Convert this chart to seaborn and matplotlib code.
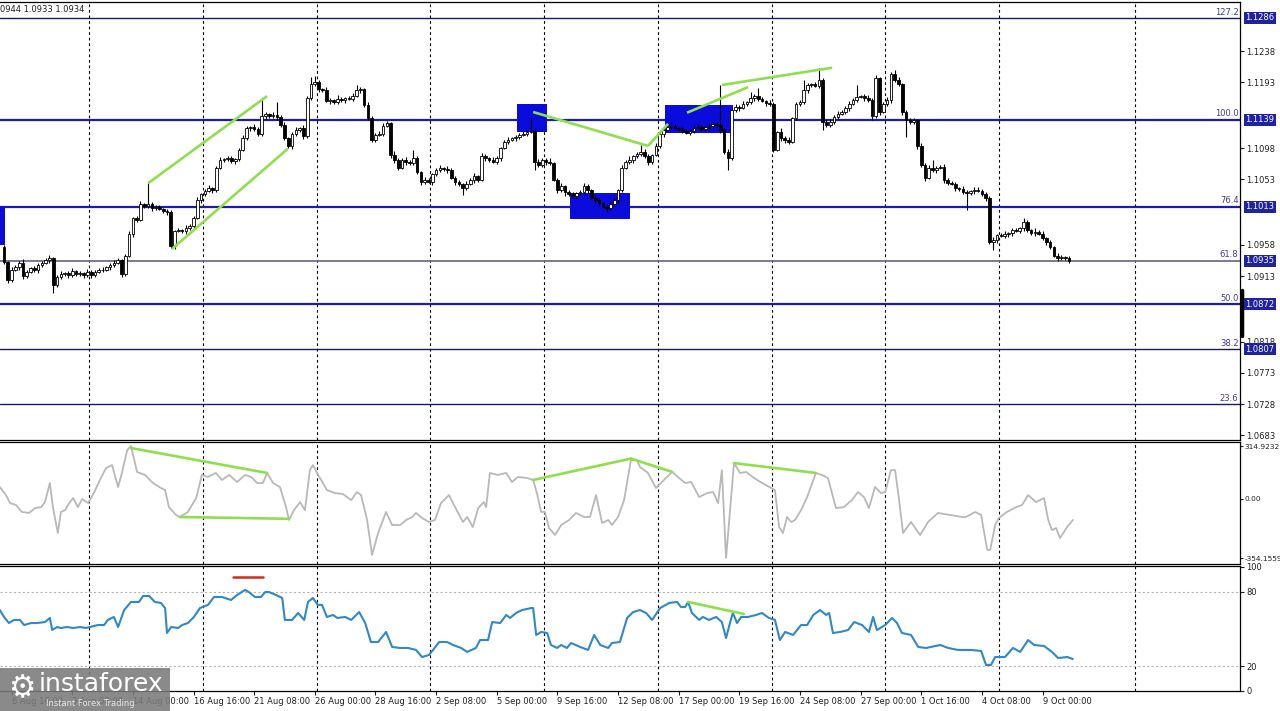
import matplotlib
matplotlib.use("Agg")
import matplotlib.pyplot as plt
from matplotlib.patches import Rectangle
import numpy as np
import pandas as pd
import seaborn as sns

sns.set_style("white")
plt.rcParams["font.family"] = ["DejaVu Sans"]

# EURUSD H4 closes in pips (10934 -> 1.0934); each bar opens at the previous close
first_open = 10955
closes = [10933, 10907, 10922, 10926, 10932, 10913, 10919, 10924, 10922, 10929,
          10932, 10936, 10939, 10900, 10911, 10916, 10917, 10914, 10920, 10916,
          10917, 10914, 10919, 10914, 10919, 10922, 10922, 10926, 10929, 10932,
          10936, 10916, 10942, 10974, 10997, 10994, 11017, 11014, 11017, 11011,
          11013, 11010, 11007, 11005, 10956, 10978, 10979, 10978, 10982, 10985,
          10997, 11023, 11031, 11036, 11040, 11037, 11069, 11081, 11082, 11083,
          11079, 11082, 11095, 11112, 11127, 11128, 11125, 11118, 11144, 11147,
          11144, 11146, 11143, 11131, 11112, 11101, 11118, 11124, 11127, 11115,
          11170, 11190, 11193, 11183, 11182, 11166, 11167, 11164, 11169, 11167,
          11170, 11169, 11173, 11182, 11183, 11160, 11141, 11110, 11117, 11118,
          11130, 11134, 11088, 11081, 11069, 11081, 11078, 11076, 11083, 11063,
          11049, 11052, 11049, 11060, 11066, 11069, 11068, 11066, 11055, 11049,
          11046, 11040, 11046, 11052, 11057, 11052, 11086, 11083, 11081, 11078,
          11083, 11098, 11107, 11110, 11112, 11114, 11117, 11118, 11121, 11123,
          11078, 11073, 11081, 11078, 11076, 11052, 11037, 11043, 11034, 11031,
          11029, 11033, 11034, 11043, 11037, 11026, 11023, 11018, 11013, 11011,
          11017, 11023, 11037, 11069, 11078, 11081, 11086, 11089, 11092, 11086,
          11078, 11088, 11101, 11118, 11124, 11128, 11130, 11127, 11125, 11123,
          11120, 11123, 11127, 11128, 11125, 11128, 11130, 11133, 11131, 11124,
          11092, 11083, 11153, 11157, 11156, 11162, 11164, 11170, 11173, 11169,
          11166, 11163, 11162, 11095, 11121, 11112, 11110, 11107, 11141, 11162,
          11164, 11182, 11189, 11190, 11188, 11196, 11136, 11131, 11136, 11143,
          11147, 11150, 11156, 11162, 11167, 11172, 11173, 11170, 11167, 11144,
          11199, 11150, 11162, 11167, 11205, 11196, 11190, 11150, 11138, 11136,
          11138, 11101, 11073, 11055, 11069, 11066, 11069, 11071, 11052, 11047,
          11046, 11040, 11039, 11034, 11033, 11036, 11037, 11036, 11031, 11026,
          10962, 10965, 10972, 10971, 10974, 10975, 10979, 10978, 10982, 10991,
          10979, 10975, 10977, 10974, 10968, 10962, 10955, 10942, 10939, 10940,
          10939, 10934]
# wick lengths beyond the body, in pips
upper_wick = [3, 2, 4, 3, 2, 5, 3, 2, 4, 3, 2, 3, 5, 2, 3, 4, 2, 3, 5, 2,
              3, 2, 4, 3, 2, 3, 4, 2, 3, 4, 3, 2, 3, 4, 2, 3, 5, 2, 30, 3,
              2, 3, 2, 3, 4, 2, 3, 2, 4, 3, 3, 4, 2, 3, 4, 2, 3, 4, 2, 3,
              4, 2, 3, 5, 3, 2, 4, 3, 26, 3, 2, 4, 19, 3, 4, 2, 3, 5, 2, 4,
              3, 11, 9, 3, 2, 4, 3, 2, 5, 3, 2, 3, 4, 7, 3, 2, 4, 3, 2, 4,
              4, 3, 2, 5, 3, 2, 4, 3, 12, 3, 2, 4, 3, 2, 3, 5, 2, 4, 3, 2,
              3, 2, 4, 3, 5, 2, 5, 3, 2, 4, 3, 2, 3, 4, 2, 3, 2, 4, 3, 18,
              3, 4, 2, 3, 5, 2, 3, 4, 2, 3, 4, 2, 3, 5, 3, 2, 4, 3, 2, 3,
              4, 3, 2, 4, 3, 5, 2, 3, 10, 4, 3, 2, 4, 4, 3, 2, 5, 3, 2, 4,
              3, 2, 4, 5, 3, 2, 4, 3, 2, 58, 3, 4, 2, 5, 3, 4, 2, 9, 3, 12,
              3, 2, 4, 3, 2, 6, 3, 4, 2, 3, 4, 14, 3, 2, 4, 18, 3, 2, 4, 3,
              4, 3, 2, 4, 3, 17, 2, 3, 5, 3, 4, 2, 3, 5, 3, 6, 4, 2, 3, 4,
              3, 2, 4, 3, 5, 12, 3, 2, 4, 3, 4, 3, 2, 4, 3, 2, 5, 4, 3, 4,
              3, 4, 2, 3, 4, 2, 3, 4, 2, 6, 3, 2, 5, 3, 4, 2, 3, 2, 4, 3,
              2, 3]
lower_wick = [2, 4, 3, 2, 4, 4, 3, 2, 3, 4, 3, 2, 4, 12, 3, 2, 3, 4, 2, 3,
              3, 4, 2, 4, 3, 2, 3, 2, 4, 3, 2, 5, 3, 2, 4, 3, 2, 3, 2, 4,
              3, 2, 3, 4, 3, 4, 2, 3, 4, 2, 3, 2, 4, 3, 2, 4, 3, 2, 3, 3,
              2, 4, 3, 2, 3, 4, 2, 3, 2, 4, 3, 2, 4, 3, 2, 3, 4, 2, 3, 4,
              2, 3, 2, 4, 3, 2, 4, 3, 2, 3, 4, 2, 3, 2, 4, 3, 2, 4, 3, 2,
              3, 2, 4, 5, 3, 2, 4, 3, 2, 3, 4, 3, 2, 4, 3, 2, 3, 4, 2, 4,
              3, 10, 3, 2, 4, 3, 2, 4, 3, 2, 3, 4, 2, 3, 2, 4, 3, 2, 3, 2,
              12, 3, 2, 4, 3, 2, 4, 3, 5, 2, 3, 4, 2, 3, 4, 2, 4, 3, 2, 6,
              3, 2, 4, 3, 2, 3, 4, 2, 3, 2, 4, 3, 2, 3, 4, 2, 3, 2, 3, 4,
              2, 3, 4, 2, 3, 2, 5, 3, 2, 4, 3, 17, 2, 3, 4, 2, 3, 2, 4, 3,
              2, 4, 3, 3, 2, 4, 5, 3, 2, 3, 3, 2, 4, 3, 2, 3, 12, 3, 2, 4,
              3, 2, 3, 4, 2, 3, 2, 4, 3, 5, 3, 4, 2, 3, 4, 2, 3, 4, 24, 3,
              4, 4, 3, 5, 2, 3, 4, 2, 4, 3, 2, 4, 3, 2, 25, 3, 4, 2, 3, 4,
              3, 12, 4, 2, 3, 4, 4, 2, 3, 4, 2, 3, 4, 2, 3, 4, 3, 2, 4, 3,
              3, 2]

# CCI (bar position, value)
cci_bar = [-1.1, 0.5, 1.6, 3.2, 4.7, 6.6, 8.2, 9.8, 10.8, 12.1,
           12.9, 14.2, 15.0, 16.1, 17.2, 18.2, 19.5, 20.6, 22.2, 23.7,
           25.3, 26.9, 28.5, 30.1, 31.1, 32.5, 33.5, 35.1, 37.2, 39.3,
           41.4, 42.5, 43.5, 45.4, 46.4, 48.5, 50.7, 52.2, 53.8, 55.9,
           57.5, 59.4, 61.5, 63.6, 65.2, 66.8, 68.3, 69.4, 71.0, 72.8,
           74.4, 75.2, 76.5, 78.1, 79.4, 80.7, 81.5, 82.9, 85.2, 87.3,
           89.4, 91.6, 93.1, 94.2, 95.8, 97.1, 98.7, 100.8, 102.4, 104.5,
           106.1, 107.7, 108.7, 110.3, 112.1, 113.7, 115.3, 117.4, 119.0, 121.1,
           122.2, 123.7, 125.1, 126.6, 127.2, 128.2, 130.3, 132.5, 134.0, 135.6,
           138.0, 139.6, 140.6, 141.7, 142.7, 143.8, 145.4, 147.0, 149.1, 150.9,
           153.0, 154.6, 156.2, 157.8, 159.4, 160.4, 162.0, 163.6, 165.4, 167.0,
           167.8, 169.9, 172.0, 174.1, 176.3, 178.1, 179.7, 181.3, 183.4, 185.5,
           187.1, 188.4, 189.4, 190.5, 192.6, 194.2, 195.8, 197.9, 200.0, 202.4,
           203.4, 204.5, 205.5, 206.6, 207.7, 208.7, 210.3, 211.9, 214.2, 215.8,
           217.4, 219.5, 221.6, 223.7, 225.3, 226.9, 228.2, 229.8, 231.4, 232.5,
           234.0, 235.1, 236.1, 237.2, 239.3, 241.7, 243.8, 246.4, 249.6, 252.8,
           253.8, 256.2, 257.8, 259.4, 260.2, 261.5, 262.5, 264.6, 267.0, 268.6,
           270.2, 272.3, 274.4, 275.5, 276.5, 277.6, 278.6, 280.5, 282.0]
cci_val = [70, 22, -26, -38, -79, -85, -56, -50, -20, 94,
           -50, -205, -79, -68, -26, 4, -50, -2, -26, 34,
           112, 183, 201, 70, 154, 291, 314.9, 160, 142, 94,
           64, 52, -50, -97, -109, -79, 4, 142, 130, 154,
           112, 142, 100, 142, 130, 94, 94, 154, 94, 70,
           -50, -127, -68, -20, -68, 171, 201, 142, 52, 34,
           28, -8, 40, 22, -127, -336, -205, -79, -157, -157,
           -127, -109, -85, -115, -139, -127, -26, 22, -50, -139,
           -109, -169, -56, -20, -50, 154, 142, 154, 100, 130,
           124, 112, 34, -79, -79, -175, -217, -157, -127, -85,
           -109, -109, 22, -145, -127, -157, -109, -8, 231, 231,
           189, 154, 64, 112, 160, 124, 94, 100, 10, 34,
           40, -26, 171, -354.2, 213, 154, 160, 124, 94, 64,
           52, -169, -205, -109, -139, -127, -68, 10, 154, 142,
           124, -56, -50, -8, 40, 10, -56, 70, 34, 40,
           171, 171, 4, -205, -139, -217, -139, -85, -97, -109,
           -109, -79, -97, -306, -306, -157, -115, -79, -50, -38,
           22, -20, 4, -127, -187, -175, -235, -169, -127]

# RSI (bar position, value)
rsi_bar = [-1.1, 0, 1.3, 2.6, 4.2, 5.3, 7.1, 8.7, 10.8, 12.1,
           12.7, 14.0, 15.0, 16.6, 18.2, 20.1, 21.6, 22.7, 24.8, 26.4,
           27.4, 29.0, 30.1, 31.7, 33.5, 35.6, 36.7, 38.3, 39.8, 41.4,
           42.5, 43.0, 44.1, 45.9, 47.0, 48.5, 50.1, 51.7, 53.8, 55.4,
           57.5, 59.9, 61.5, 63.6, 64.6, 66.2, 67.8, 68.9, 69.9, 71.8,
           73.4, 74.1, 76.0, 77.6, 79.2, 80.2, 81.5, 82.8, 83.9, 85.2,
           86.8, 87.9, 90.0, 91.6, 93.7, 95.3, 96.8, 98.7, 100.8, 102.4,
           104.5, 106.6, 108.7, 110.3, 112.1, 113.2, 114.8, 116.9, 118.5, 120.6,
           122.2, 124.5, 125.6, 127.7, 128.8, 130.9, 132.5, 133.5, 135.1, 136.7,
           139.1, 139.6, 140.4, 141.7, 143.3, 144.3, 145.9, 147.0, 148.5, 149.6,
           152.0, 154.1, 155.7, 157.3, 159.4, 160.4, 162.5, 164.4, 166.0, 167.8,
           169.4, 171.0, 173.1, 175.5, 177.6, 178.6, 179.7, 180.5, 181.5, 183.4,
           184.4, 186.0, 187.9, 189.4, 190.5, 191.6, 192.3, 193.4, 194.5, 196.3,
           198.4, 200.0, 201.8, 203.4, 204.7, 206.1, 208.2, 210.3, 211.9, 213.5,
           215.3, 216.9, 217.7, 218.7, 220.6, 222.7, 224.3, 226.4, 228.2, 229.3,
           230.3, 232.5, 234.3, 235.6, 236.9, 239.3, 241.2, 243.3, 247.0, 249.1,
           251.7, 255.1, 257.8, 259.1, 260.4, 261.5, 264.1, 266.2, 268.1, 270.2,
           271.8, 274.4, 276.5, 278.1, 280.5, 282.0]
rsi_val = [65.3, 59.7, 54.8, 57.3, 57.3, 53.2, 54.8, 54.8, 55.6, 58.9,
           49.2, 51.6, 50.8, 51.6, 50.8, 51.6, 50.8, 51.6, 53.2, 53.2,
           57.3, 59.7, 51.6, 65.3, 71.8, 71.8, 76.6, 76.6, 71.8, 71.0,
           66.9, 46.8, 51.6, 50.8, 53.2, 54.8, 59.7, 66.9, 69.4, 75.8,
           75.8, 73.4, 77.4, 81.5, 79.8, 75.8, 75.8, 79.8, 79.8, 77.4,
           75.0, 57.3, 57.3, 62.9, 57.3, 71.8, 75.0, 69.4, 69.4, 59.7,
           61.3, 58.9, 59.7, 57.3, 63.7, 54.8, 39.5, 39.5, 47.6, 35.5,
           34.7, 34.7, 33.1, 27.4, 29.0, 33.1, 39.5, 39.5, 37.1, 34.7,
           31.5, 34.7, 41.1, 41.1, 55.6, 54.8, 61.3, 58.9, 62.9, 65.3,
           66.9, 66.9, 45.2, 47.6, 46.8, 37.1, 34.7, 37.1, 34.7, 38.7,
           35.5, 33.1, 45.2, 37.1, 34.7, 38.7, 39.5, 58.9, 63.7, 65.3,
           62.9, 57.3, 66.9, 71.0, 71.8, 67.7, 67.7, 71.8, 62.9, 57.3,
           59.7, 57.3, 59.7, 55.6, 42.7, 55.6, 62.9, 54.8, 59.7, 59.7,
           61.3, 62.9, 58.9, 57.3, 41.1, 47.6, 45.2, 53.2, 53.2, 61.3,
           65.3, 61.3, 62.9, 46.8, 47.6, 49.2, 55.6, 53.2, 47.6, 59.7,
           49.2, 53.2, 58.9, 54.8, 46.8, 45.2, 35.5, 34.7, 37.1, 34.7,
           33.1, 33.1, 32.3, 21.0, 21.0, 27.4, 27.4, 34.7, 31.5, 41.1,
           37.1, 36.3, 31.5, 26.6, 27.4, 25.8]

# Fibonacci grid
fib_levels = ["127.2", "100.0", "76.4", "61.8", "50.0", "38.2", "23.6"]
fib_prices = [1.1286, 1.1139, 1.1013, 1.0935, 1.0872, 1.0807, 1.0728]
fib_colors = ["#1a1a60", "#1c1caa", "#1c1caa", "#6e6e8c", "#1c1caa", "#1a1a60", "#1a1a60"]
fib_widths = [1.0, 1.6, 1.6, 1.3, 1.6, 1.0, 1.0]
price_ticks = [1.1238, 1.1193, 1.1098, 1.1053, 1.0958, 1.0913, 1.0818, 1.0773, 1.0728, 1.0683]
boxed_prices = [1.1286, 1.1139, 1.1013, 1.0935, 1.0872, 1.0807]

# blue zones (bar start, bar end, low, high)
zone_start = [-3, 135.4, 149.3, 174.4]
zone_end = [0.3, 143.3, 165.2, 192.3]
zone_low = [1.0958, 1.1121, 1.0995, 1.1120]
zone_high = [1.1013, 1.1162, 1.1033, 1.1160]

# hand-drawn green lines ((bar, value), (bar, value))
price_lines = [((38.0, 1.1047), (69.4, 1.1173)), ((44.3, 1.0952), (74.9, 1.1097)),
               ((139.6, 1.1150), (169.9, 1.1101)), ((169.9, 1.1101), (175.2, 1.1133)),
               ((180.2, 1.1149), (196.3, 1.1186)), ((189.4, 1.1189), (218.5, 1.1214))]
cci_lines = [((33.5, 303), (69.4, 154)), ((46.4, -109), (75.2, -120)),
             ((139.6, 112), (165.4, 240)), ((165.4, 240), (176.3, 160)),
             ((192.6, 213), (214.2, 154))]
rsi_lines = [((180.5, 71.8), (195.2, 62.1))]
rsi_mark = ((60.4, 91.9), (68.3, 91.9))

grid_bars = [22.5, 52.5, 82.5, 112.5, 142.5, 172.5, 202.5, 232.5, 262.5, 298.5]
time_ticks = [2, 18, 34, 50, 66, 82, 98, 114, 130, 146, 162, 178, 194, 210, 226, 242, 258, 274]
time_labels = ["6 Aug 16:00", "9 Aug 08:00", "14 Aug 00:00", "16 Aug 16:00", "21 Aug 08:00",
               "26 Aug 00:00", "28 Aug 16:00", "2 Sep 08:00", "5 Sep 00:00", "9 Sep 16:00",
               "12 Sep 08:00", "17 Sep 00:00", "19 Sep 16:00", "24 Sep 08:00", "27 Sep 00:00",
               "1 Oct 16:00", "4 Oct 08:00", "9 Oct 00:00"]

# ---- build candles ----
bars = pd.DataFrame({"close": np.array(closes) / 10000})
bars["open"] = np.array([first_open] + closes[:-1]) / 10000
bars["top"] = bars[["open", "close"]].max(axis=1)
bars["bot"] = bars[["open", "close"]].min(axis=1)
bars["high"] = bars["top"] + np.array(upper_wick) / 10000
bars["low"] = bars["bot"] - np.array(lower_wick) / 10000
bars["bull"] = bars["close"] >= bars["open"]

W, H = 1280, 711
fig = plt.figure(figsize=(W / 100, H / 100), dpi=100)


def rect(x0, y0, x1, y1):
    return [x0 / W, 1 - y1 / H, (x1 - x0) / W, (y1 - y0) / H]


ax = fig.add_axes(rect(0, 2, 1240, 440))
ax_cci = fig.add_axes(rect(0, 442, 1240, 564))
ax_rsi = fig.add_axes(rect(0, 566, 1240, 691))
xlim = (-1.06, 326.1)

for a in (ax, ax_cci, ax_rsi):
    a.set_xlim(*xlim)
    a.set_facecolor("white")
    for s in a.spines.values():
        s.set_color("black")
        s.set_linewidth(0.9)
    a.spines["left"].set_visible(False)
    for g in grid_bars:
        a.axvline(g, color="black", lw=0.8, ls=(0, (2.5, 2.5)), zorder=1)
    a.yaxis.tick_right()
    a.tick_params(axis="y", length=3, width=0.8, pad=1.5, labelsize=6, colors="#202020")
    a.tick_params(axis="x", bottom=False, labelbottom=False)

# ---- main price panel ----
ax.set_ylim(1.0676, 1.1309)
for lvl, p, c, w in zip(fib_levels, fib_prices, fib_colors, fib_widths):
    ax.axhline(p, color=c, lw=w, zorder=2)
    ax.text(325.7, p + 0.0002, lvl, ha="right", va="bottom", fontsize=6, color="#3c3c8c", zorder=6)

for x0, x1, lo, hi in zip(zone_start, zone_end, zone_low, zone_high):
    ax.add_patch(Rectangle((x0, lo), x1 - x0, hi - lo, facecolor="#0b0bdc", edgecolor="none", zorder=2.5))

ax.vlines(bars.index, bars["low"], bars["high"], color="black", lw=0.8, zorder=3)
heights = np.maximum(bars["top"] - bars["bot"], 0.00003)
ax.bar(bars.index, heights, bottom=bars["bot"], width=0.7,
       color=np.where(bars["bull"], "white", "black"), edgecolor="black", linewidth=0.6, zorder=4)

for (x0, y0), (x1, y1) in price_lines:
    ax.plot([x0, x1], [y0, y1], color="#8fdf4c", lw=1.9, zorder=5, solid_capstyle="butt")

ax.set_yticks(price_ticks)
ax.set_yticklabels([f"{p:.4f}" for p in price_ticks])
for p in boxed_prices:
    ax.text(1.0045, p, f"{p:.4f}", transform=ax.get_yaxis_transform(), fontsize=6, color="white",
            va="center", ha="left", zorder=8,
            bbox=dict(boxstyle="square,pad=0.18", facecolor="#1f23a0", edgecolor="none"))
ax.plot([1.0015, 1.0015], [1.0893, 1.0826], transform=ax.get_yaxis_transform(),
        color="black", lw=2.5, clip_on=False, zorder=7)

# ---- CCI panel ----
ax_cci.set_ylim(-390, 339)
sns.lineplot(x=cci_bar, y=cci_val, ax=ax_cci, color="#b8b8b8", linewidth=1.3,
             estimator=None, sort=False, legend=False, zorder=3)
for (x0, y0), (x1, y1) in cci_lines:
    ax_cci.plot([x0, x1], [y0, y1], color="#8fdf4c", lw=1.9, zorder=4)
ax_cci.set_yticks([314.9232, 0, -354.1559])
ax_cci.set_yticklabels(["314.9232", "0.00", "-354.1559"])
ax_cci.tick_params(axis="y", labelsize=5.3, pad=0.8, length=2.5)

# ---- RSI panel ----
ax_rsi.set_ylim(0, 100.8)
for lv in (80, 20):
    ax_rsi.axhline(lv, color="#b4b4b4", lw=0.8, ls=(0, (2, 2)), zorder=1)
sns.lineplot(x=rsi_bar, y=rsi_val, ax=ax_rsi, color="#2f88c8", linewidth=1.5,
             estimator=None, sort=False, legend=False, zorder=3)
for (x0, y0), (x1, y1) in rsi_lines:
    ax_rsi.plot([x0, x1], [y0, y1], color="#8fdf4c", lw=1.9, zorder=4)
ax_rsi.plot([rsi_mark[0][0], rsi_mark[1][0]], [rsi_mark[0][1], rsi_mark[1][1]],
            color="#d42a1e", lw=1.8, zorder=4)
ax_rsi.set_yticks([100, 80, 20, 0])
ax_rsi.set_yticklabels(["100", "80", "20", "0"])
ax_rsi.set_xticks(time_ticks)
ax_rsi.set_xticklabels(time_labels, ha="left")
ax_rsi.tick_params(axis="x", bottom=True, labelbottom=True, length=3, width=0.8, pad=1.5,
                   labelsize=6, colors="#202020")
for a in (ax, ax_cci, ax_rsi):
    a.set_xlabel("")
    a.set_ylabel("")

# header and watermark
fig.text(0.0, 1 - 10 / H, "0944 1.0933 1.0934", fontsize=6, va="center", ha="left", color="#202020")
fig.add_artist(Rectangle((0, 0), 170 / W, 43 / H, transform=fig.transFigure,
                         facecolor="#7a7a7a", edgecolor="none", alpha=0.88, zorder=10))
fig.text(22 / W, 1 - 689 / H, "\u2699", fontsize=22, color="white", ha="center", va="center", zorder=11)
fig.text(39 / W, 1 - 684 / H, "instaforex", fontsize=18, color="white", ha="left", va="center", zorder=11)
fig.text(46 / W, 1 - 704 / H, "Instant Forex Trading", fontsize=6, color="#e8e8e8", ha="left",
         va="center", zorder=11)

fig.savefig("out.png", dpi=100, facecolor="white")
